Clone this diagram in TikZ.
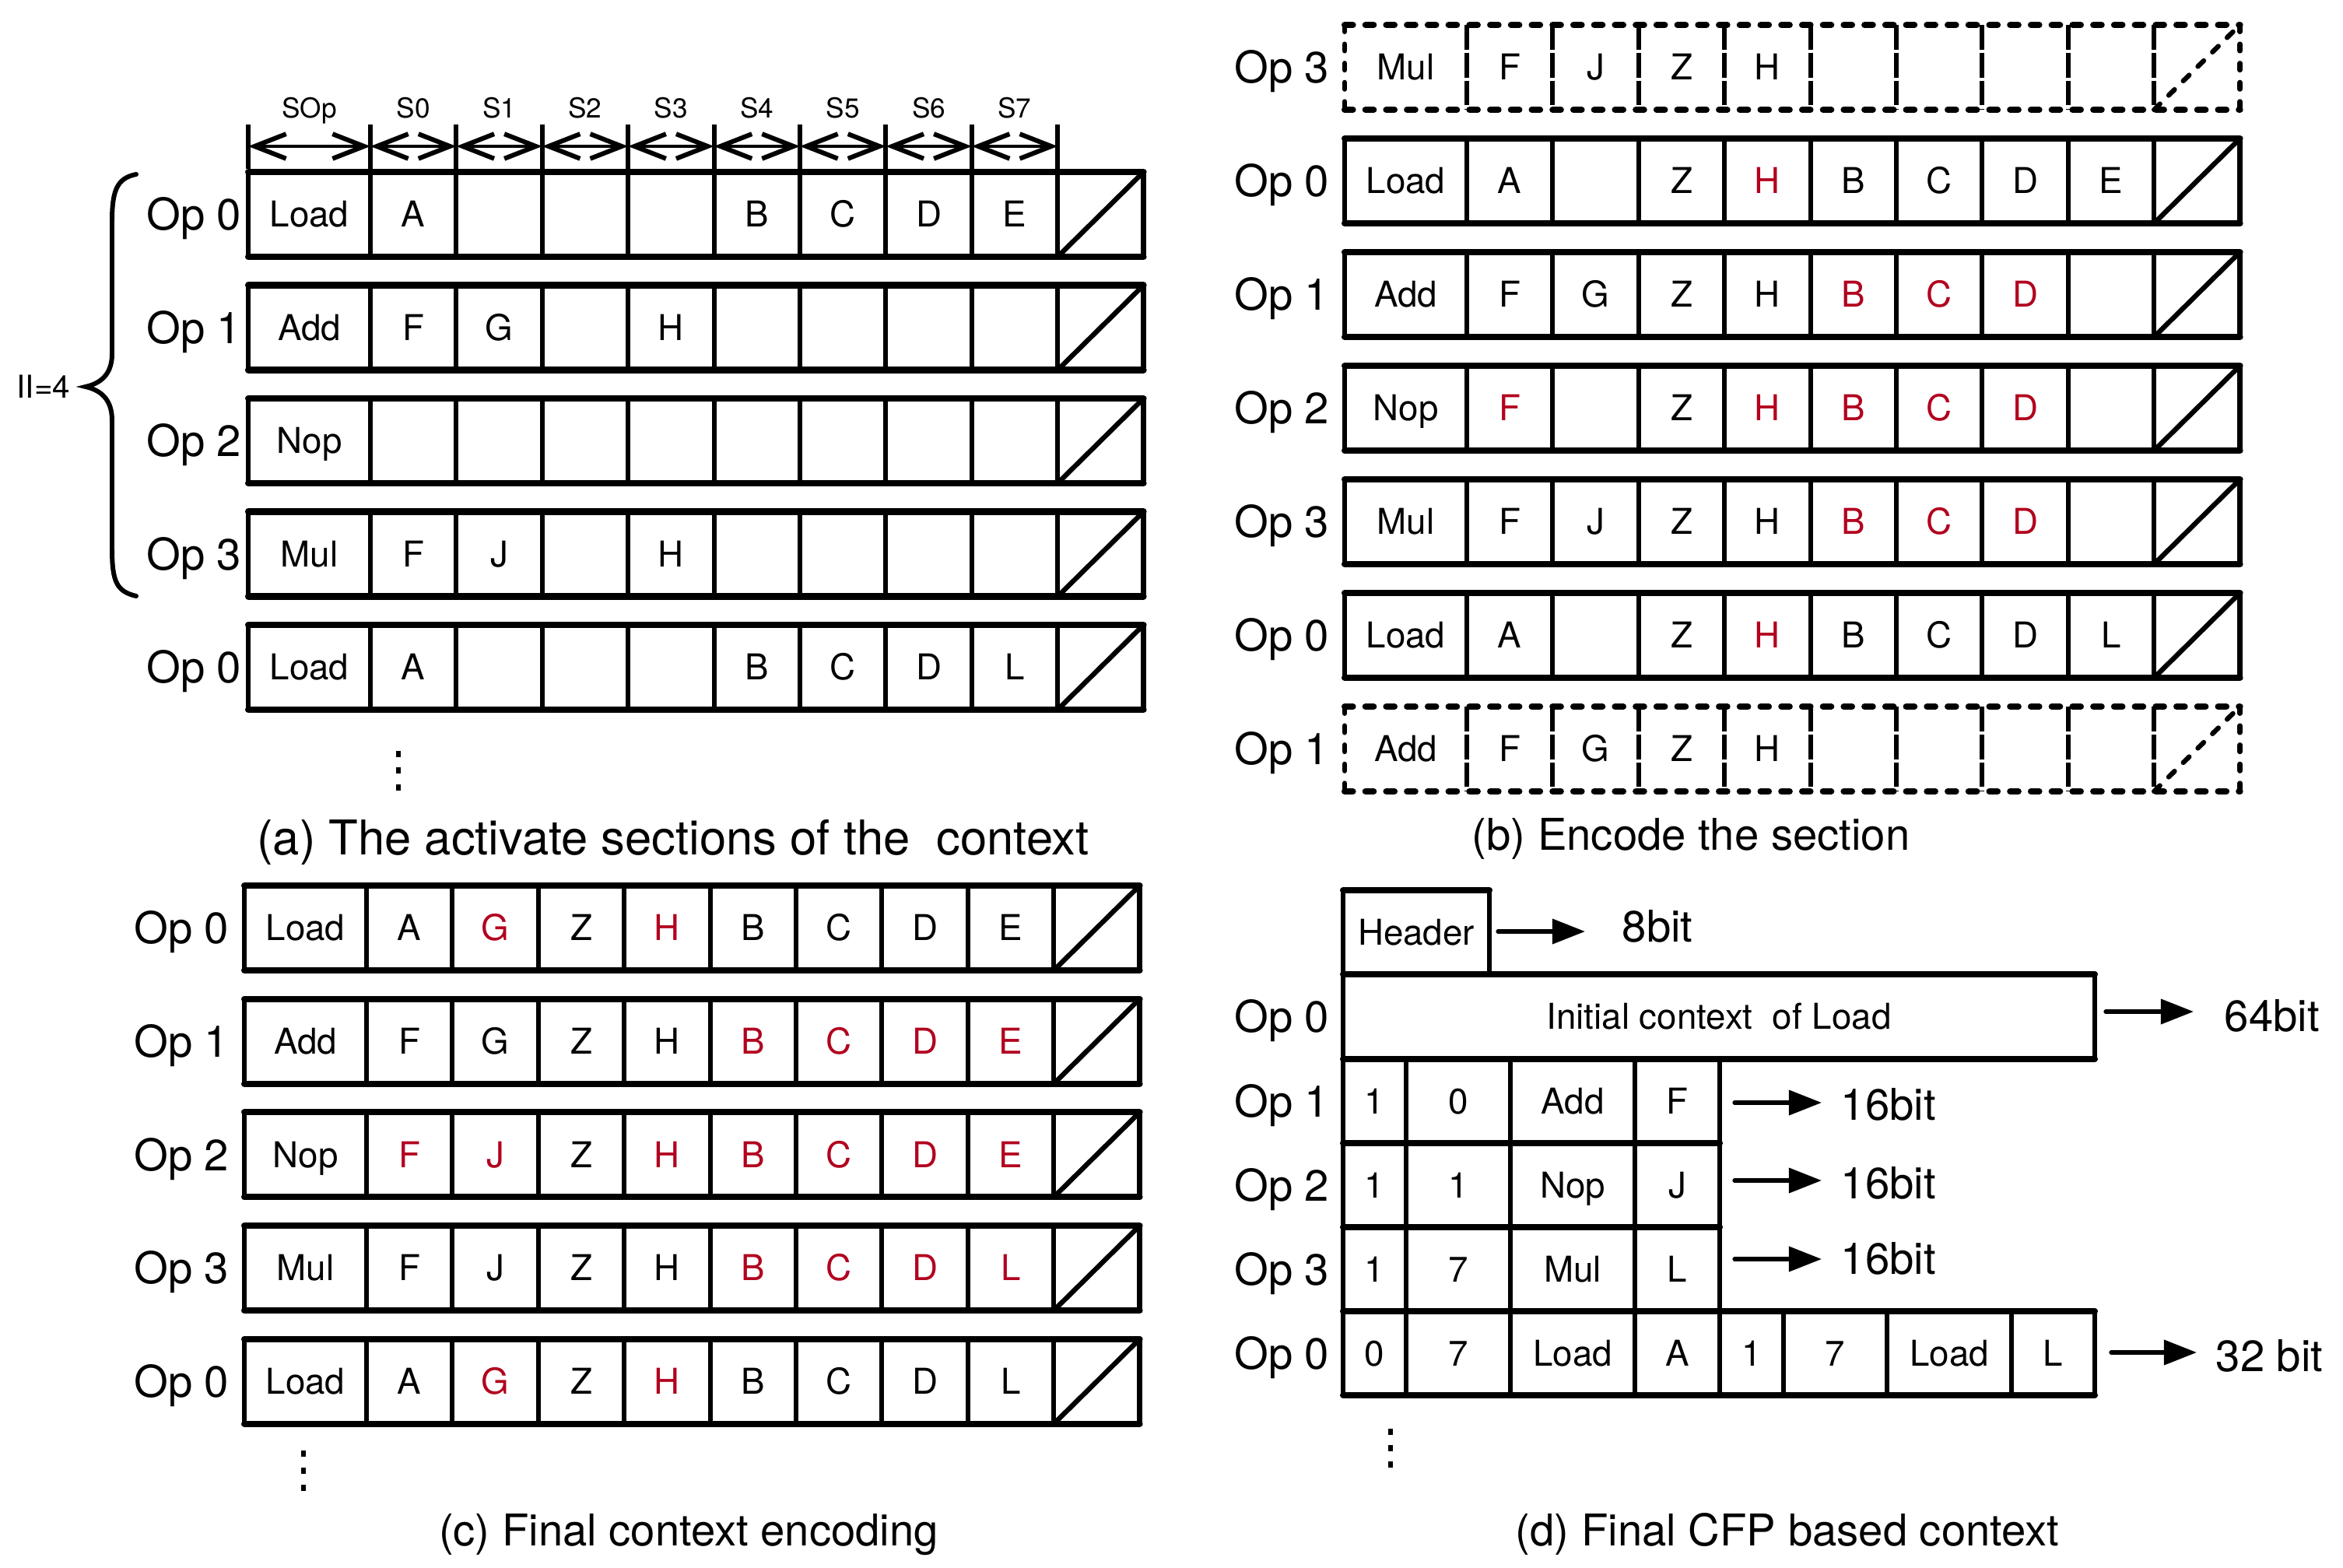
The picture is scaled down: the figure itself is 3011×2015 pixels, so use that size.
\documentclass[tikz,border=0pt]{standalone}
\usepackage{fontspec}
\setmainfont{TeX Gyre Heros}
\usetikzlibrary{arrows.meta,calc}
\definecolor{cred}{RGB}{178,0,30}
\newcommand{\R}[1]{\textcolor{cred}{#1}}
\tikzset{
  rowH/.style={line width=2.3pt, line cap=round},
  rowV/.style={line width=1.7pt},
  rowO/.style={line width=1.9pt, line cap=round},
  rowS/.style={line width=1.8pt, line cap=round},
  dashrow/.style={
    rowH/.style={line width=2.3pt, line cap=round, dash pattern=on 3pt off 4.6pt},
    rowV/.style={line width=1.7pt, dash pattern=on 9pt off 1.2pt},
    rowO/.style={line width=1.8pt, line cap=round, dash pattern=on 2.5pt off 4.5pt},
    rowS/.style={line width=1.8pt, line cap=round, dash pattern=on 3pt off 4.5pt}},
  celltext/.style={font=\fontsize{13pt}{15pt}\selectfont, inner sep=0pt, text height=9.3pt, text depth=0pt, anchor=center},
  oplab/.style={font=\fontsize{16pt}{19pt}\selectfont, inner sep=0pt, text height=11.5pt, text depth=0pt, anchor=east},
  slab/.style={font=\fontsize{10pt}{12pt}\selectfont, inner sep=0pt, text height=7.2pt, text depth=0pt},
  captxt/.style={font=\fontsize{16pt}{19pt}\selectfont, inner sep=0pt, text height=11.5pt, text depth=0pt},
  bitlab/.style={font=\fontsize{16pt}{19pt}\selectfont, inner sep=0pt, text height=11.5pt, text depth=0pt, anchor=west},
  bitarrow/.style={line width=1.5pt, line cap=round, -{Triangle[length=12pt,width=9pt]}},
  secarrow/.style={line width=1.2pt, {Straight Barb[length=11.5pt,width=9pt,line width=1.7pt]}-{Straight Barb[length=11.5pt,width=9pt,line width=1.7pt]}},
  tick/.style={line width=1.7pt},
}
% #1 name, #2 x0, #3 y0, #4 label, #5 gap, #6 items, #7 scope style
\newcommand{\ctxrow}[7]{%
\begin{scope}[shift={(#2,#3)},#7]
  \draw[rowO] (0,0) -- (0,109);
  \draw[rowO] (1150.6,0) -- (1150.6,109);
  \foreach \k in {0,...,8} \draw[rowV] ({157+\k*110.4},0) -- ({157+\k*110.4},109);
  \draw[rowS] (1040.2,109) -- (1150.6,0);
  \draw[rowH] (0,0) -- (1150.6,0);
  \draw[rowH] (0,109) -- (1150.6,109);
  \node[oplab] (#1-op) at (-#5,54.5) {#4};
  \foreach \t [count=\i from 0] in {#6} {
    \pgfmathsetmacro\cx{\i==0 ? 78.5 : 157+(\i-0.5)*110.4}
    \node[celltext] (#1-\i) at (\cx,54.5) {\t};
  }
\end{scope}}
\begin{document}
\begin{tikzpicture}[x=0.01cm, y=-0.01cm]
\useasboundingbox[fill=white] (0,0) rectangle (3011,2015);

% ---------------- (a) ----------------
\begin{scope}[shift={(319,0)}]
  \foreach \t [count=\i from 0] in {SOp,S0,S1,S2,S3,S4,S5,S6,S7} {
    \pgfmathsetmacro\cx{\i==0 ? 78.5 : 157+(\i-0.5)*110.4}
    \node[slab] (hd-\i) at (\cx,139) {\t};
  }
  \draw[tick] (0,160) -- (0,217);
  \foreach \k in {0,...,8} \draw[tick] ({157+\k*110.4},160) -- ({157+\k*110.4},217);
  \draw[secarrow] (0,188) -- (157,188);
  \foreach \k in {0,...,7} \draw[secarrow] ({157+\k*110.4},188) -- ({157+(\k+1)*110.4},188);
\end{scope}
\ctxrow{a0}{319}{221}{Op 0}{8}{Load,A,{},{},{},B,C,D,E}{}
\ctxrow{a1}{319}{366.5}{Op 1}{8}{Add,F,G,{},H,{},{},{},{}}{}
\ctxrow{a2}{319}{512}{Op 2}{8}{Nop,{},{},{},{},{},{},{},{}}{}
\ctxrow{a3}{319}{657.5}{Op 3}{8}{Mul,F,J,{},H,{},{},{},{}}{}
\ctxrow{a4}{319}{803}{Op 0}{8}{Load,A,{},{},{},B,C,D,L}{}
% brace
\draw[line width=1.7pt, line cap=round]
  (175,224) .. controls (150,229) and (144,245) .. (144,285)
  -- (144,455) .. controls (144,482) and (128,493) .. (110,497)
  .. controls (128,501) and (144,512) .. (144,540)
  -- (144,705) .. controls (144,748) and (150,760) .. (175,766);
\node[font=\fontsize{11.5pt}{13pt}\selectfont, inner sep=0pt, text height=8.3pt, text depth=0pt, anchor=east] (ii) at (91,497) {II=4};
\foreach \yy in {969,990,1012} \fill (509,{\yy-4}) rectangle (515,{\yy+4});
\node[captxt, font=\fontsize{17.5pt}{20pt}\selectfont, text height=12.6pt] (capa) at (865,1076) {(a) The activate sections of the\ \ context};

% ---------------- (b) ----------------
\ctxrow{b0}{1728}{32}{Op 3}{19}{Mul,F,J,Z,H,{},{},{},{}}{dashrow}
\ctxrow{b1}{1728}{178}{Op 0}{19}{Load,A,{},Z,\R{H},B,C,D,E}{}
\ctxrow{b2}{1728}{324}{Op 1}{19}{Add,F,G,Z,H,\R{B},\R{C},\R{D},{}}{}
\ctxrow{b3}{1728}{470}{Op 2}{19}{Nop,\R{F},{},Z,\R{H},\R{B},\R{C},\R{D},{}}{}
\ctxrow{b4}{1728}{616}{Op 3}{19}{Mul,F,J,Z,H,\R{B},\R{C},\R{D},{}}{}
\ctxrow{b5}{1728}{762}{Op 0}{19}{Load,A,{},Z,\R{H},B,C,D,L}{}
\ctxrow{b6}{1728}{908}{Op 1}{19}{Add,F,G,Z,H,{},{},{},{}}{dashrow}
\node[captxt] (capb) at (2173,1072) {(b) Encode the section};

% ---------------- (c) ----------------
\ctxrow{c0}{314}{1138}{Op 0}{19}{Load,A,\R{G},Z,\R{H},B,C,D,E}{}
\ctxrow{c1}{314}{1283.7}{Op 1}{19}{Add,F,G,Z,H,\R{B},\R{C},\R{D},\R{E}}{}
\ctxrow{c2}{314}{1429.4}{Op 2}{19}{Nop,\R{F},\R{J},Z,\R{H},\R{B},\R{C},\R{D},\R{E}}{}
\ctxrow{c3}{314}{1575.1}{Op 3}{19}{Mul,F,J,Z,H,\R{B},\R{C},\R{D},\R{L}}{}
\ctxrow{c4}{314}{1720.8}{Op 0}{19}{Load,A,\R{G},Z,\R{H},B,C,D,L}{}
\foreach \yy in {1868,1890,1912} \fill (387,{\yy-4}) rectangle (393,{\yy+4});
\node[captxt] (capc) at (885,1966) {(c) Final context encoding};

% ---------------- (d) ----------------
\draw[rowH] (1726,1144) -- (1914,1144);
\draw[rowV] (1914,1144) -- (1914,1252);
\draw[rowO] (1726,1144) -- (1726,1793);
\draw[rowO] (2692,1252) -- (2692,1361);
\foreach \xx in {1807,1941,2101} \draw[rowV] (\xx,1361) -- (\xx,1793);
\draw[rowO] (2210,1361) -- (2210,1793);
\foreach \xx in {2292,2425,2585} \draw[rowV] (\xx,1685) -- (\xx,1793);
\draw[rowO] (2692,1685) -- (2692,1793);
\draw[rowH] (1726,1252) -- (2692,1252);
\draw[rowH] (1726,1361) -- (2692,1361);
\draw[rowH] (1726,1469) -- (2210,1469);
\draw[rowH] (1726,1577) -- (2210,1577);
\draw[rowH] (1726,1685) -- (2692,1685);
\draw[rowH] (1726,1793) -- (2692,1793);

\node[celltext] (hdr) at (1820,1198) {Header};
\node[celltext] (init) at (2209,1306) {Initial context\ \ of Load};
\node[oplab] (d0-op) at (1709,1306) {Op 0};
\node[oplab] (d1-op) at (1709,1415) {Op 1};
\node[oplab] (d2-op) at (1709,1523) {Op 2};
\node[oplab] (d3-op) at (1709,1631) {Op 3};
\node[oplab] (d4-op) at (1709,1739) {Op 0};
\foreach \t [count=\i] in {1,0,Add,F} {
  \pgfmathsetmacro\cx{{1766.5,1874,2021,2155.5}[\i-1]}
  \node[celltext] (d1-\i) at (\cx,1415) {\t};
}
\foreach \t [count=\i] in {1,1,Nop,J} {
  \pgfmathsetmacro\cx{{1766.5,1874,2021,2155.5}[\i-1]}
  \node[celltext] (d2-\i) at (\cx,1523) {\t};
}
\foreach \t [count=\i] in {1,7,Mul,L} {
  \pgfmathsetmacro\cx{{1766.5,1874,2021,2155.5}[\i-1]}
  \node[celltext] (d3-\i) at (\cx,1631) {\t};
}
\foreach \t [count=\i] in {0,7,Load,A,1,7,Load,L} {
  \pgfmathsetmacro\cx{{1766.5,1874,2021,2155.5,2251,2358.5,2505,2638.5}[\i-1]}
  \node[celltext] (d4-\i) at (\cx,1739) {\t};
}
\node[bitlab] (b8) at (2084,1190) {8bit};
\node[bitlab] (b64) at (2858,1305) {64bit};
\node[bitlab] (b16a) at (2365,1419) {16bit};
\node[bitlab] (b16b) at (2365,1520) {16bit};
\node[bitlab] (b16c) at (2365,1617) {16bit};
\node[bitlab] (b32) at (2847,1742) {32 bit};
\coordinate (s8) at (1925,1197);   \coordinate (e8) at (2037,1197);
\coordinate (s64) at (2706,1300);  \coordinate (e64) at (2819,1300);
\coordinate (s16a) at (2229,1417); \coordinate (e16a) at (2341,1417);
\coordinate (s16b) at (2229,1517); \coordinate (e16b) at (2341,1517);
\coordinate (s16c) at (2229,1618); \coordinate (e16c) at (2341,1618);
\coordinate (s32) at (2713,1738);  \coordinate (e32) at (2823,1738);
\draw[bitarrow] (s8) -- (e8);
\draw[bitarrow] (s64) -- (e64);
\draw[bitarrow] (s16a) -- (e16a);
\draw[bitarrow] (s16b) -- (e16b);
\draw[bitarrow] (s16c) -- (e16c);
\draw[bitarrow] (s32) -- (e32);
\foreach \yy in {1840,1861,1882} \fill (1784,{\yy-4}) rectangle (1790,{\yy+4});
\node[captxt] (capd) at (2297,1966) {(d) Final CFP based context};
\end{tikzpicture}
\end{document}
